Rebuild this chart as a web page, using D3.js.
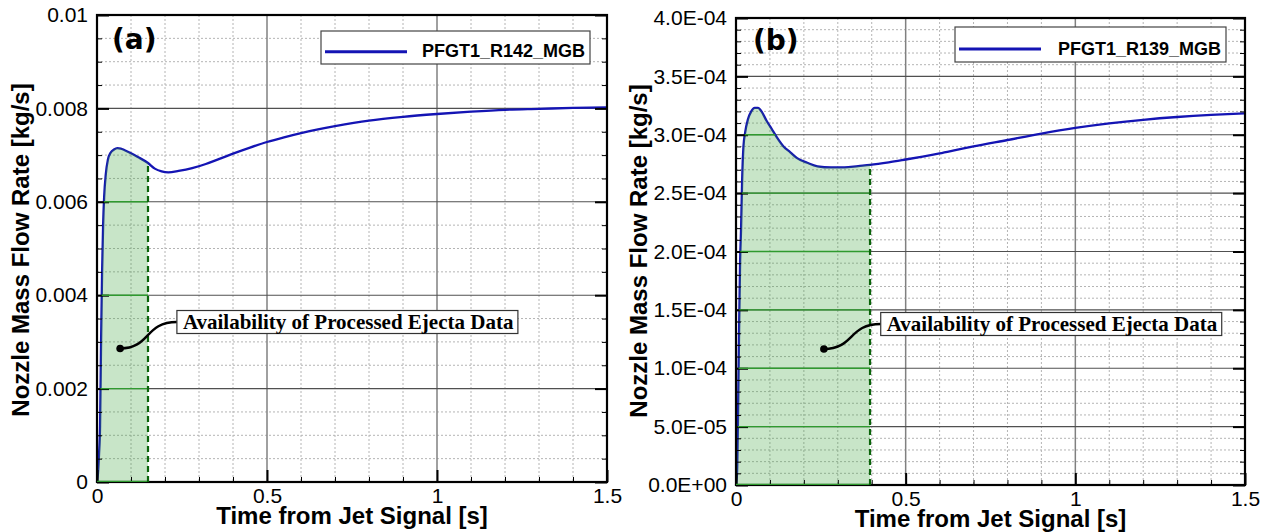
<!DOCTYPE html>
<html><head><meta charset="utf-8">
<script src="https://cdn.jsdelivr.net/npm/d3@7"></script>
<style>body{margin:0;background:#fff}svg{display:block}</style>
</head><body><svg id="c" width="1270" height="532"></svg>
<script>
// ---------- data ----------
const timeA = [0,0.003,0.006,0.009,0.012,0.015,0.018,0.021,0.026,0.032,0.04,0.05,0.06,0.07,0.08,0.1,0.12,0.15,0.17,0.19,0.21,0.24,0.28,0.32,0.36,0.4,0.45,0.5,0.55,0.6,0.65,0.7,0.8,0.9,1.0,1.1,1.2,1.3,1.4,1.5];
const flowA = [0,0.0002,0.0006,0.0012,0.0030,0.0045,0.0055,0.0061,0.0066,0.0069,0.00705,0.00712,0.00715,0.00714,0.00711,0.00704,0.00696,0.00683,0.00671,0.00665,0.00663,0.00666,0.00672,0.00681,0.00692,0.00703,0.00716,0.00728,0.00738,0.00747,0.00755,0.00762,0.00774,0.00782,0.00788,0.00793,0.00797,0.00799,0.00801,0.00802];
const timeB = [0,0.003,0.006,0.009,0.012,0.015,0.018,0.022,0.027,0.035,0.045,0.055,0.065,0.075,0.09,0.105,0.12,0.14,0.16,0.18,0.21,0.24,0.28,0.32,0.36,0.395,0.45,0.5,0.55,0.6,0.65,0.7,0.8,0.9,1.0,1.1,1.2,1.3,1.4,1.5];
const flowB = [0,0.000010,0.000060,0.000130,0.000190,0.000220,0.000260,0.000290,0.000302,0.000313,0.000320,0.000323,0.000323,0.000320,0.000312,0.000305,0.000298,0.000290,0.000285,0.000280,0.000276,0.000273,0.000272,0.000272,0.0002732,0.0002742,0.0002764,0.0002788,0.0002813,0.000284,0.000287,0.000290,0.0002955,0.000301,0.0003058,0.0003097,0.0003128,0.0003152,0.000317,0.0003183];

const xTicks = [0,0.5,1,1.5];
const xTickLabels = ["0","0.5","1","1.5"];
const yTicksA = [0,0.002,0.004,0.006,0.008,0.01];
const yTickLabelsA = ["0","0.002","0.004","0.006","0.008","0.01"];
const yTicksB = [0,5e-5,1e-4,1.5e-4,2e-4,2.5e-4,3e-4,3.5e-4,4e-4];
const yTickLabelsB = ["0.0E+00","5.0E-05","1.0E-04","1.5E-04","2.0E-04","2.5E-04","3.0E-04","3.5E-04","4.0E-04"];
const seriesNames = ["PFGT1_R142_MGB","PFGT1_R139_MGB"];
const panelLabels = ["(a)","(b)"];
const fillEnds = [0.15,0.395];
const annotText = "Availability of Processed Ejecta Data";
const annotDotA = [0.068,0.00286], annotBoxA = [0.235,0.003426];
const annotDotB = [0.259,0.0001165], annotBoxB = [0.4265,0.0001379];
const xTitle = "Time from Jet Signal [s]";
const yTitle = "Nozzle Mass Flow Rate [kg/s]";

// ---------- drawing ----------
const svg = d3.select("#c");
const BLUE = "#1414b4";

const panels = [
  {idx:0, t:timeA, v:flowA, yTicks:yTicksA, yLabels:yTickLabelsA, yMax:0.01, yMinor:0.0005, yMajor:0.002,
   left:97, right:607, top:15, bottom:482, fillEnd:fillEnds[0], dot:annotDotA, box:annotBoxA,
   leg:{x:321,y:31,w:269,h:33}, ytx:29, yty:250, lab:{x:112,y:49}},
  {idx:1, t:timeB, v:flowB, yTicks:yTicksB, yLabels:yTickLabelsB, yMax:4e-4, yMinor:1e-5, yMajor:5e-5,
   left:736, right:1245, top:18, bottom:485, fillEnd:fillEnds[1], dot:annotDotB, box:annotBoxB,
   leg:{x:955,y:27,w:271,h:35}, ytx:647, yty:251, lab:{x:753,y:50}}
];

panels.forEach(p => {
  const x = d3.scaleLinear().domain([0,1.5]).range([p.left,p.right]);
  const y = d3.scaleLinear().domain([0,p.yMax]).range([p.bottom,p.top]);
  const g = svg.append("g");
  const pts = p.t.map((t,i)=>({t, v:p.v[i]}));

  // minor grid
  const xMin = d3.range(1,15).filter(i=>i%5!==0).map(i=>i/10);
  const nY = Math.round(p.yMax/p.yMinor), per = Math.round(p.yMajor/p.yMinor);
  const yMin = d3.range(1,nY).filter(i=>i%per!==0).map(i=>i*p.yMinor);
  g.selectAll(".gx").data(xMin).join("line")
    .attr("x1",d=>x(d)).attr("x2",d=>x(d)).attr("y1",p.top).attr("y2",p.bottom)
    .attr("stroke","#b4b4b4").attr("stroke-width",1).attr("stroke-dasharray","2,2");
  g.selectAll(".gy").data(yMin).join("line")
    .attr("y1",d=>y(d)).attr("y2",d=>y(d)).attr("x1",p.left).attr("x2",p.right)
    .attr("stroke","#b4b4b4").attr("stroke-width",1).attr("stroke-dasharray","2,2");
  // major grid
  g.selectAll(".Gx").data(xTicks.slice(1,-1)).join("line")
    .attr("x1",d=>x(d)).attr("x2",d=>x(d)).attr("y1",p.top).attr("y2",p.bottom)
    .attr("stroke","#808080").attr("stroke-width",1.5);
  g.selectAll(".Gy").data(p.yTicks.slice(1,-1)).join("line")
    .attr("y1",d=>y(d)).attr("y2",d=>y(d)).attr("x1",p.left).attr("x2",p.right)
    .attr("stroke","#505050").attr("stroke-width",1.1);

  // curve
  const line = d3.line().x(d=>x(d.t)).y(d=>y(d.v)).curve(d3.curveMonotoneX);
  g.append("path").datum(pts).attr("d",line).attr("fill","none")
    .attr("stroke",BLUE).attr("stroke-width",2.3);

  // fill
  const fpts = pts.filter(d=>d.t<=p.fillEnd+1e-9);
  const area = d3.area().x(d=>x(d.t)).y0(y(0)).y1(d=>y(d.v)).curve(d3.curveMonotoneX);
  g.append("path").datum(fpts).attr("d",area).attr("fill","#3aa03a").attr("fill-opacity",0.28);
  const cid = "clipF"+p.idx;
  svg.append("clipPath").attr("id",cid).append("path").datum(fpts).attr("d",area);

  // ticks
  const ax = (axisFn, sc, vals, size, labels) => {
    const a = axisFn(sc).tickValues(vals).tickSize(size).tickSizeOuter(0);
    a.tickFormat(labels ? (d,i)=>labels[i] : "");
    return a;
  };
  const gl = g.append("g").attr("transform",`translate(${p.left},0)`)
    .call(ax(d3.axisLeft, y, p.yTicks, -12, p.yLabels).tickPadding(9));
  const glm = g.append("g").attr("transform",`translate(${p.left},0)`)
    .call(ax(d3.axisLeft, y, yMin, -5, null));
  const gr = g.append("g").attr("transform",`translate(${p.right},0)`)
    .call(ax(d3.axisRight, y, p.yTicks, -12, null));
  const grm = g.append("g").attr("transform",`translate(${p.right},0)`)
    .call(ax(d3.axisRight, y, yMin, -5, null));
  const gb = g.append("g").attr("transform",`translate(0,${p.bottom})`)
    .call(ax(d3.axisBottom, x, xTicks, -12, xTickLabels).tickPadding(6));
  const gbm = g.append("g").attr("transform",`translate(0,${p.bottom})`)
    .call(ax(d3.axisBottom, x, xMin, -5, null));
  [gl,gr,gb].forEach(a=>{a.select(".domain").remove(); a.selectAll(".tick line").attr("stroke","#000").attr("stroke-width",2);});
  [glm,grm,gbm].forEach(a=>{a.select(".domain").remove(); a.selectAll(".tick line").attr("stroke","#000").attr("stroke-width",1);});
  [gl,gb].forEach(a=>a.selectAll("text").attr("font-family","Liberation Sans, Arial, sans-serif")
    .attr("font-size",21).attr("fill","#000"));

  // frame
  g.append("rect").attr("x",p.left).attr("y",p.top).attr("width",p.right-p.left).attr("height",p.bottom-p.top)
    .attr("fill","none").attr("stroke","#000").attr("stroke-width",2.2);

  // green gridlines inside fill
  g.append("g").attr("clip-path",`url(#${cid})`).selectAll("line").data(p.yTicks).join("line")
    .attr("y1",d=>y(d)).attr("y2",d=>y(d)).attr("x1",p.left).attr("x2",x(p.fillEnd))
    .attr("stroke","#2f9a2f").attr("stroke-width",d=>d===0?2.4:1.4);

  // dashed boundary
  const endV = fpts[fpts.length-1].v;
  g.append("line").attr("x1",x(p.fillEnd)).attr("x2",x(p.fillEnd)).attr("y1",y(0)).attr("y2",y(endV))
    .attr("stroke","#0a640a").attr("stroke-width",2.2).attr("stroke-dasharray","6,4");

  // annotation
  const dx=x(p.dot[0]), dy=y(p.dot[1]), bx=x(p.box[0]), by=y(p.box[1]);
  const mx=(dx+bx)/2;
  g.append("path").attr("d",`M${dx},${dy} C${mx+2},${dy} ${mx-4},${by} ${bx},${by}`)
    .attr("fill","none").attr("stroke","#000").attr("stroke-width",2.5);
  g.append("circle").attr("cx",dx).attr("cy",dy).attr("r",3.8).attr("fill","#000");
  const boxG = g.append("g");
  const rect = boxG.append("rect");
  const at = boxG.append("text").attr("x",bx+6).attr("y",by+6.5)
    .attr("font-family","Liberation Serif, Times New Roman, serif").attr("font-weight","bold")
    .attr("font-size",21).attr("fill","#000").text(annotText);
  const bb = at.node().getBBox();
  rect.attr("x",bx).attr("y",by-11.5).attr("width",bb.width+10).attr("height",23)
    .attr("fill","#fff").attr("stroke","#333").attr("stroke-width",1.2);

  // legend
  const L = p.leg;
  g.append("rect").attr("x",L.x).attr("y",L.y).attr("width",L.w).attr("height",L.h)
    .attr("fill","#fff").attr("stroke","#444").attr("stroke-width",1.2);
  g.append("line").attr("x1",L.x+4).attr("x2",L.x+86).attr("y1",L.y+L.h*0.63).attr("y2",L.y+L.h*0.63)
    .attr("stroke",BLUE).attr("stroke-width",3);
  g.append("text").attr("x",L.x+L.w-5).attr("y",L.y+L.h*0.79).attr("text-anchor","end")
    .attr("font-family","Liberation Sans, Arial, sans-serif").attr("font-weight","bold")
    .attr("font-size",18).attr("fill","#000").text(seriesNames[p.idx]);

  // panel label
  g.append("text").attr("x",p.lab.x).attr("y",p.lab.y)
    .attr("font-family","DejaVu Sans, sans-serif").attr("font-weight","bold")
    .attr("font-size",28).attr("fill","#000").text(panelLabels[p.idx]);

  // axis titles
  g.append("text").attr("x",(p.left+p.right)/2).attr("y",p.bottom+42).attr("text-anchor","middle")
    .attr("font-family","Liberation Sans, Arial, sans-serif").attr("font-weight","bold")
    .attr("font-size",24).attr("fill","#000").text(xTitle);
  g.append("text").attr("transform",`translate(${p.ytx},${p.yty}) rotate(-90)`).attr("text-anchor","middle")
    .attr("font-family","Liberation Sans, Arial, sans-serif").attr("font-weight","bold")
    .attr("font-size",24).attr("fill","#000").text(yTitle);
});
</script>
</body></html>
